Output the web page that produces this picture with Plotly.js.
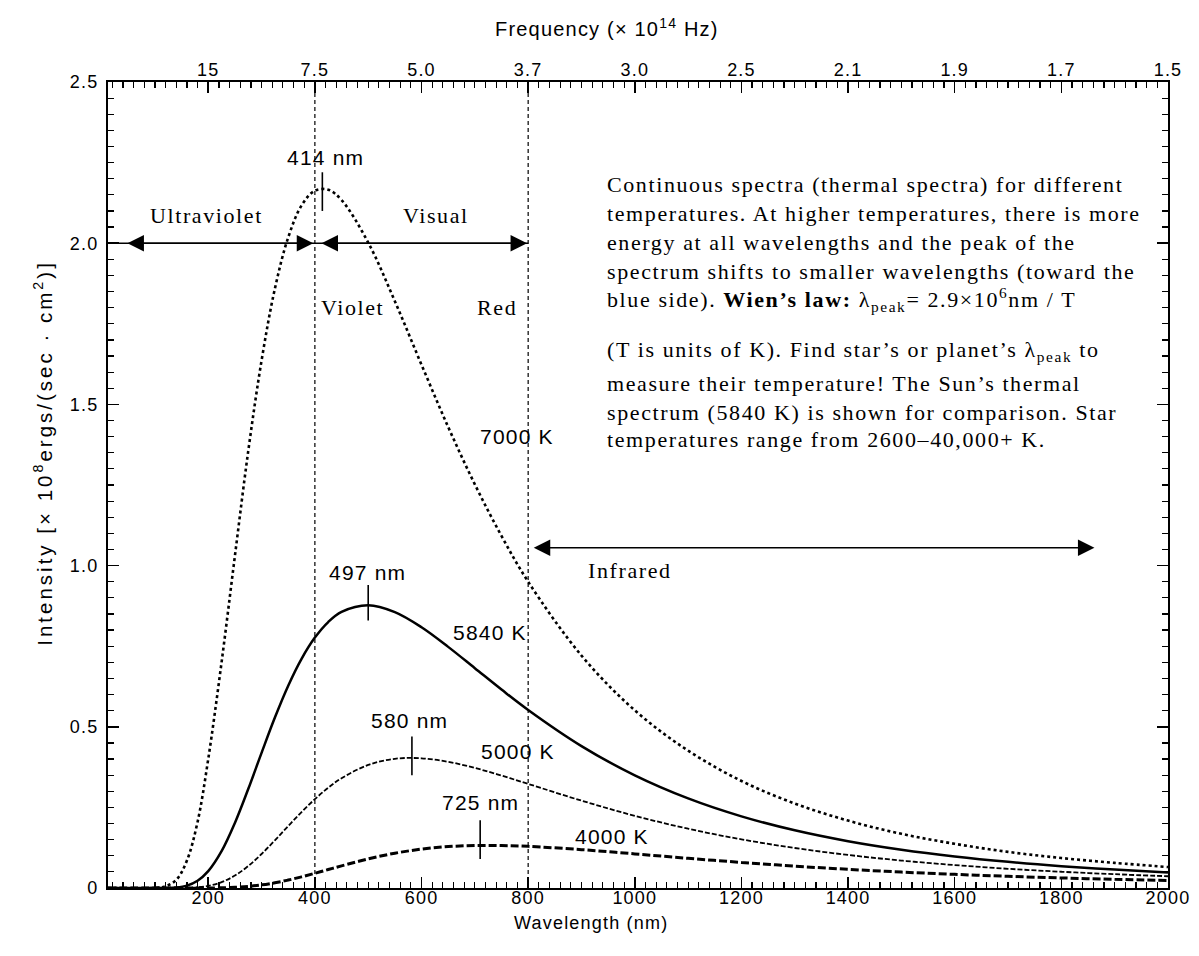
<!DOCTYPE html>
<html>
<head>
<meta charset="utf-8">
<script src="https://cdn.plot.ly/plotly-3.0.1.min.js"></script>
<style>
  html, body { margin: 0; padding: 0; background: #fff; }
  #chart { width: 1199px; height: 956px; }
  text[style*="Liberation Serif"] { letter-spacing: 1.6px; }
  text[style*="Liberation Sans"] { letter-spacing: 1.2px; }
  text[style*="font-size: 20.5px"] { letter-spacing: 3px; }
</style>
</head>
<body>
<div id="chart"></div>
<script>
// ---- data ----
const wavelength = [12,100,120,140,160,180,200,225,250,275,300,325,350,375,400,425,450,500,550,600,650,700,750,800,900,1000,1100,1200,1300,1400,1500,1600,1700,1800,1900,2000];
const intensity7000 = [0,0.0004,0.0055,0.025,0.085,0.205,0.40,0.70,1.03,1.355,1.636,1.859,2.018,2.117,2.163,2.166,2.134,2.002,1.820,1.623,1.430,1.252,1.092,0.950,0.721,0.551,0.426,0.332,0.262,0.209,0.168,0.137,0.112,0.093,0.078,0.065];
const intensity5840 = [0,0,0.0002,0.0016,0.0074,0.0226,0.0524,0.1143,0.2019,0.3070,0.4193,0.5287,0.6275,0.7108,0.7767,0.8249,0.8564,0.8770,0.8557,0.8087,0.7479,0.6818,0.6155,0.5522,0.4402,0.3494,0.2779,0.2222,0.1789,0.1451,0.1186,0.0977,0.0811,0.0678,0.0571,0.0483];
const intensity5000 = [0,0,0,0,0.0006,0.0023,0.0066,0.0182,0.0386,0.0682,0.1055,0.1479,0.1922,0.2355,0.2756,0.3109,0.3405,0.3817,0.4008,0.4023,0.3914,0.3724,0.3487,0.3229,0.2710,0.2239,0.1839,0.1509,0.1241,0.1025,0.0851,0.0711,0.0596,0.0504,0.0428,0.0365];
const intensity4000 = [0,0,0,0,0,0,0.0002,0.0007,0.0022,0.0050,0.0096,0.0162,0.0246,0.0346,0.0456,0.0572,0.0687,0.0903,0.1079,0.1206,0.1284,0.1318,0.1318,0.1292,0.1190,0.1058,0.0921,0.0793,0.0678,0.0579,0.0494,0.0423,0.0362,0.0312,0.0269,0.0233];

const peakMarkX  = [414, 500, 582, 710];
const peakMarkLo = [2.10, 0.83, 0.35, 0.09];
const peakMarkHi = [2.22, 0.94, 0.47, 0.21];
const peakLabels = ['414 nm', '497 nm', '580 nm', '725 nm'];
const peakLabelX = [419, 498, 577, 710];
const peakLabelY = [2.267, 0.980, 0.521, 0.264];

const tempLabels = ['7000 K', '5840 K', '5000 K', '4000 K'];
const tempLabelX = [779, 728, 781, 957];
const tempLabelY = [1.402, 0.794, 0.422, 0.161];

const bandBounds = [400, 800];
const visualArrowY = 2.0;
const infraredArrowY = 1.055;

const wavelengthTicks = [200,400,600,800,1000,1200,1400,1600,1800,2000];
const wavelengthTickText = ['200','400','600','800','1000','1200','1400','1600','1800','2000'];
const frequencyTickText = ['15','7.5','5.0','3.7','3.0','2.5','2.1','1.9','1.7','1.5'];
const intensityTicks = [0,0.5,1.0,1.5,2.0,2.5];
const intensityTickText = ['0','0.5','1.0','1.5','2.0','2.5'];

const paragraphLines = [
  'Continuous spectra (thermal spectra) for different',
  'temperatures. At higher temperatures, there is more',
  'energy at all wavelengths and the peak of the',
  'spectrum shifts to smaller wavelengths (toward the',
  'blue side). <b>Wien’s law:</b> λ<sub>peak</sub>= 2.9×10<sup>6</sup>nm / T',
  '(T is units of K). Find star’s or planet’s λ<sub>peak</sub> to',
  'measure their temperature! The Sun’s thermal',
  'spectrum (5840 K) is shown for comparison. Star',
  'temperatures range from 2600–40,000+ K.'
];
const paragraphY = [2.181, 2.091, 2.001, 1.911, 1.826, 1.666, 1.566, 1.476, 1.390];

// ---- traces ----
const traces = [];
traces.push({x: wavelength, y: intensity7000, mode: 'lines', line: {color: '#000', width: 2.6, dash: '3px,3px', shape: 'spline'}, hoverinfo: 'skip'});
traces.push({x: wavelength, y: intensity5840, mode: 'lines', line: {color: '#000', width: 2.5, shape: 'spline'}, hoverinfo: 'skip'});
traces.push({x: wavelength, y: intensity5000, mode: 'lines', line: {color: '#000', width: 1.8, dash: '5px,2px', shape: 'spline'}, hoverinfo: 'skip'});
traces.push({x: wavelength, y: intensity4000, mode: 'lines', line: {color: '#000', width: 3, dash: '8px,3px', shape: 'spline'}, hoverinfo: 'skip'});

bandBounds.forEach(b => {
  traces.push({x: [b, b], y: [0, 2.5], mode: 'lines', line: {color: '#000', width: 1.2, dash: '4px,3px'}, hoverinfo: 'skip'});
});
// horizontal line carrying the UV / visual arrows, from the left frame to the red edge
traces.push({x: [12, bandBounds[1]], y: [visualArrowY, visualArrowY], mode: 'lines', line: {color: '#000', width: 1.5}, hoverinfo: 'skip'});
peakMarkX.forEach((p, i) => {
  traces.push({x: [p, p], y: [peakMarkLo[i], peakMarkHi[i]], mode: 'lines', line: {color: '#000', width: 1.6}, hoverinfo: 'skip'});
});
// invisible trace to activate top/right axes
traces.push({x: [1000], y: [1], xaxis: 'x2', yaxis: 'y2', mode: 'markers', marker: {opacity: 0}, hoverinfo: 'skip'});

// ---- annotations ----
const ann = [];
const serif = {family: 'Liberation Serif, Times New Roman, serif', size: 22, color: '#000'};
const sans = {family: 'Liberation Sans, Arial, sans-serif', size: 21, color: '#000'};

function arrow(x0, x1, y) {
  return {x: x1, y: y, ax: x0, ay: y, xref: 'x', yref: 'y', axref: 'x', ayref: 'y', text: ' ',
    showarrow: true, arrowhead: 2, startarrowhead: 2, arrowside: 'end+start',
    arrowsize: 2.2, startarrowsize: 2.2, arrowwidth: 1.5, arrowcolor: '#000', standoff: 0, startstandoff: 0};
}
ann.push(arrow(40, 397, visualArrowY));
ann.push(arrow(404, 798, visualArrowY));
ann.push(arrow(802, 1862, infraredArrowY));

const regionText = [
  ['Ultraviolet', 196, 2.087],
  ['Visual', 627, 2.087],
  ['Violet', 470, 1.80],
  ['Red', 742, 1.80],
  ['Infrared', 991, 0.986]
];
regionText.forEach(r => ann.push({x: r[1], y: r[2], xref: 'x', yref: 'y', text: r[0], showarrow: false, font: serif}));

peakLabels.forEach((t, i) => ann.push({x: peakLabelX[i], y: peakLabelY[i], xref: 'x', yref: 'y', text: t, showarrow: false, font: sans}));
tempLabels.forEach((t, i) => ann.push({x: tempLabelX[i], y: tempLabelY[i], xref: 'x', yref: 'y', text: t, showarrow: false, font: sans}));

paragraphLines.forEach((t, i) => ann.push({x: 944, y: paragraphY[i], xref: 'x', yref: 'y', text: t, xanchor: 'left', yanchor: 'middle', showarrow: false, font: serif}));

const titleFont = {family: 'Liberation Sans, Arial, sans-serif', size: 18, color: '#000'};
ann.push({x: 0.456, y: -0.043, xref: 'paper', yref: 'paper', text: 'Wavelength (nm)', showarrow: false, font: titleFont, yanchor: 'middle'});
ann.push({x: 0.471, y: 1.067, xref: 'paper', yref: 'paper', text: 'Frequency (× 10<sup>14</sup> Hz)', showarrow: false, font: {family: 'Liberation Sans, Arial, sans-serif', size: 20, color: '#000'}, yanchor: 'middle'});
ann.push({x: -0.0755, y: 0.54, xref: 'paper', yref: 'paper', text: 'Intensity [× 10<sup>8</sup>ergs/(sec · cm<sup>2</sup>)]', textangle: -90, showarrow: false, font: {family: 'Liberation Sans, Arial, sans-serif', size: 20.5, color: '#000'}});

// ---- axes ----
const common = {
  range: [12, 2000], ticks: 'inside', ticklen: 11, tickwidth: 1.5, tickcolor: '#000',
  showline: true, linewidth: 2, linecolor: '#000', showgrid: false, zeroline: false,
  minor: {dtick: 20, tick0: 0, ticks: 'inside', ticklen: 6, tickwidth: 1.2, tickcolor: '#000', showgrid: false},
  tickfont: {family: 'Liberation Sans, Arial, sans-serif', size: 18, color: '#000'},
  tickmode: 'array', tickvals: wavelengthTicks, fixedrange: true
};
const ycommon = {
  range: [0, 2.5], ticks: 'inside', ticklen: 11, tickwidth: 1.5, tickcolor: '#000',
  showline: true, linewidth: 2, linecolor: '#000', showgrid: false, zeroline: false,
  minor: {dtick: 0.05, tick0: 0, ticks: 'inside', ticklen: 6, tickwidth: 1.2, tickcolor: '#000', showgrid: false},
  tickfont: {family: 'Liberation Sans, Arial, sans-serif', size: 18, color: '#000'},
  tickmode: 'array', tickvals: intensityTicks, ticktext: intensityTickText, fixedrange: true
};

const layout = {
  width: 1199, height: 956,
  margin: {l: 108, r: 31, t: 82, b: 68},
  paper_bgcolor: '#fff', plot_bgcolor: '#fff',
  showlegend: false,
  font: {family: 'Liberation Sans, Arial, sans-serif', size: 18, color: '#000'},
  xaxis: Object.assign({}, common, {ticktext: wavelengthTickText, side: 'bottom', ticklabelstandoff: -8}),
  xaxis2: Object.assign({}, common, {ticktext: frequencyTickText, side: 'top', overlaying: 'x', anchor: 'y', ticklabelstandoff: -3}),
  yaxis: Object.assign({}, ycommon, {side: 'left', ticklabelstandoff: 4}),
  yaxis2: Object.assign({}, ycommon, {side: 'right', overlaying: 'y', anchor: 'x', showticklabels: false}),
  annotations: ann
};

Plotly.newPlot('chart', traces, layout, {staticPlot: true, displayModeBar: false});
</script>
</body>
</html>
